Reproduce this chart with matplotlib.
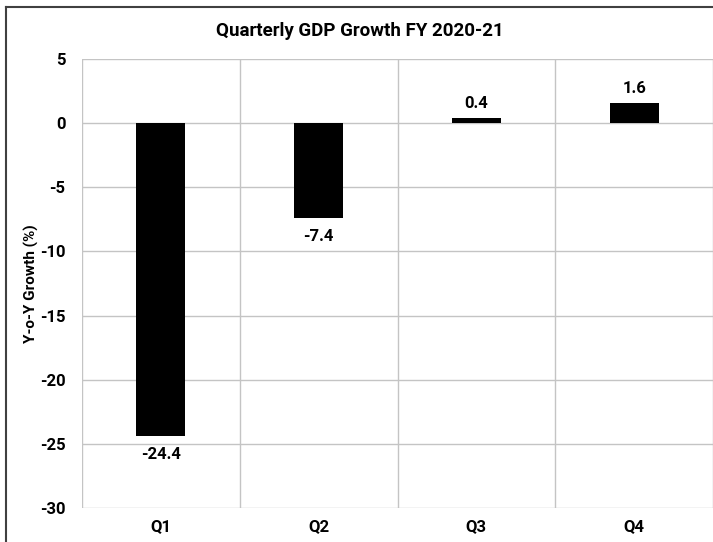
import matplotlib
matplotlib.use("Agg")
import matplotlib.pyplot as plt
from matplotlib.lines import Line2D
import numpy as np

# ---------------------------------------------------------
# Data
# ---------------------------------------------------------
quarters = ["Q1", "Q2", "Q3", "Q4"]
growth = [-24.4, -7.4, 0.4, 1.6]
y_ticks = [5, 0, -5, -10, -15, -20, -25, -30]

TITLE = "Quarterly GDP Growth FY 2020-21"
Y_LABEL = "Y-o-Y Growth (%)"

GRID = "#c4c4c4"

plt.rcParams["font.family"] = ["Roboto", "DejaVu Sans"]
plt.rcParams["font.weight"] = "bold"

fig = plt.figure(figsize=(7.13, 5.42), dpi=100)
ax = fig.add_axes([82 / 713, 1 - 508 / 542, 1 - 82 / 713, (508 - 59) / 542])

x = np.arange(len(quarters))
ax.bar(x, growth, width=0.31, color="black", zorder=3)

ax.set_xlim(-0.5, len(quarters) - 0.5)
ax.set_ylim(-30, 5)
ax.set_yticks(y_ticks)
ax.set_yticklabels([str(t) for t in y_ticks])
ax.set_xticks(x)
ax.set_xticklabels(quarters)
ax.set_xticks(np.arange(-0.5, len(quarters), 1.0), minor=True)

ax.tick_params(axis="both", which="both", length=0, labelsize=12)
ax.tick_params(axis="y", pad=12)
ax.tick_params(axis="x", pad=8)
for lbl in ax.get_xticklabels() + ax.get_yticklabels():
    lbl.set_fontweight("bold")

ax.grid(axis="y", which="major", color=GRID, linewidth=1.0, zorder=0)
ax.grid(axis="x", which="minor", color=GRID, linewidth=1.0, zorder=0)
ax.grid(axis="x", which="major", visible=False)
for side in ["top", "right", "bottom", "left"]:
    ax.spines[side].set_visible(False)

ax.set_ylabel(Y_LABEL, fontsize=11, fontweight="bold")
ax.yaxis.set_label_coords((39 - 82) / 631, 0.5)

# value labels
for xi, v in zip(x, growth):
    if v < 0:
        ax.annotate(f"{v:.1f}", (xi, v), xytext=(0, -8), textcoords="offset points",
                    ha="center", va="top", fontsize=12, fontweight="bold")
    else:
        ax.annotate(f"{v:.1f}", (xi, v), xytext=(0, 5), textcoords="offset points",
                    ha="center", va="bottom", fontsize=12, fontweight="bold")

fig.text(0.5 * (1 + 6 / 713), 1 - 31 / 542, TITLE, ha="center", va="center",
         fontsize=13.5, fontweight="bold")

# outer chart border (cropped on right and bottom)
bx = 6 / 713
by = 1 - 7 / 542
fig.add_artist(Line2D([bx, bx], [0, by], color="#404040", linewidth=1.5))
fig.add_artist(Line2D([bx, 1], [by, by], color="#404040", linewidth=1.5))

fig.savefig("out.png", dpi=100)
